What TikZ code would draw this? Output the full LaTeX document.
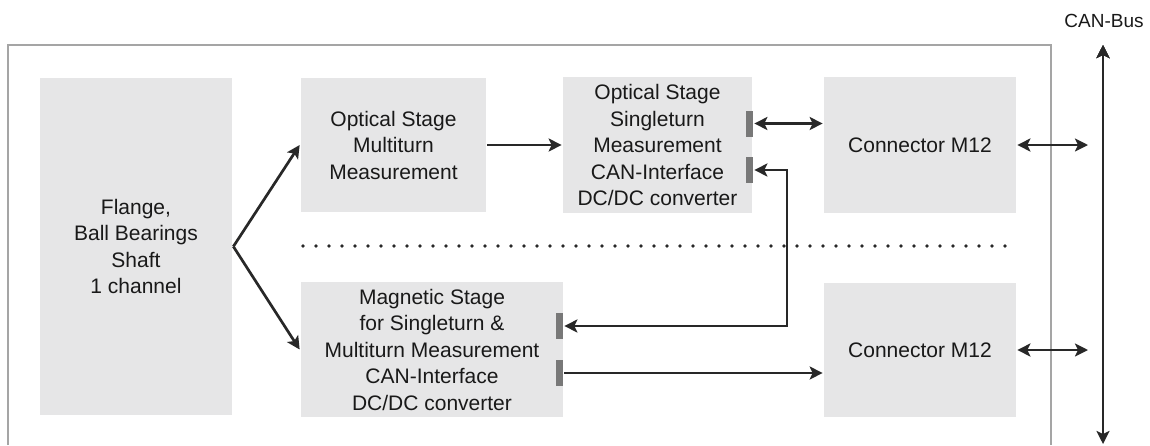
\documentclass[tikz,border=0pt]{standalone}
\usepackage{fontspec}
\setmainfont{Liberation Sans}
\usetikzlibrary{arrows.meta}
\definecolor{boxgray}{RGB}{230,230,231}
\definecolor{bargray}{RGB}{120,120,120}
\definecolor{linegray}{RGB}{40,40,40}
\definecolor{framegray}{RGB}{165,165,165}

\begin{document}
\begin{tikzpicture}[x=1pt,y=-1pt,<->,>={Stealth[length=13pt,width=13pt,inset=3pt]},
  line width=2.7pt,draw=linegray,
  block/.style={fill=boxgray,inner sep=0pt,align=center,text=black!90,
    font=\fontsize{21}{26.5}\selectfont},
  bar/.style={fill=bargray,inner sep=0pt,minimum width=7pt,minimum height=26pt}]

  \useasboundingbox (0,0) rectangle (1150,445);
  \draw[-,framegray,line width=1.6pt] (8,445) -- (8,45) -- (1051,45) -- (1051,445);

  \node[block,minimum width=192pt,minimum height=337pt] (flange) at (136,246.5)
    {Flange,\\Ball Bearings\\Shaft\\1 channel};
  \node[block,minimum width=185pt,minimum height=134pt] (multi) at (393.5,145)
    {Optical Stage\\Multiturn\\Measurement};
  \node[block,minimum width=189pt,minimum height=136pt] (single) at (657.5,145)
    {Optical Stage\\Singleturn\\Measurement\\CAN-Interface\\DC/DC converter};
  \node[block,minimum width=192pt,minimum height=136pt] (conn1) at (920,145)
    {Connector M12};
  \node[block,minimum width=262pt,minimum height=135pt] (magnet) at (432,349.5)
    {Magnetic Stage\\for Singleturn \&\\Multiturn Measurement\\CAN-Interface\\DC/DC converter};
  \node[block,minimum width=192pt,minimum height=134pt] (conn2) at (920,350)
    {Connector M12};

  \node[bar] (sbar1) at (749.5,123.5) {};
  \node[bar] (sbar2) at (749.5,170) {};
  \node[bar] (mbar1) at (559.5,326) {};
  \node[bar] (mbar2) at (559.5,373) {};

  \node[text=black!90,font=\fontsize{19}{22}\selectfont] (bus) at (1104,21) {CAN-Bus};
  \coordinate (bustop) at (1103,45);
  \coordinate (busbot) at (1103,444);
  \coordinate (tap1) at (1088,145);
  \coordinate (tap2) at (1088,350);
  \coordinate (turn) at (787,250);

  % separator between optical and magnetic part
  \foreach \x in {303,316,...,1012}
    \fill[linegray] (\x,246) circle (1.8pt);

  \path[draw=linegray]
    (flange.east) edge[->] (multi.west)
    (flange.east) edge[->] (magnet.west)
    (multi.east) edge[->] (single.west)
    (sbar1.east) edge (sbar1.east -| conn1.west)
    (mbar2.east) edge[->] (mbar2.east -| conn2.west)
    (conn1.east) edge (tap1)
    (conn2.east) edge (tap2)
    (bustop) edge (busbot);
  \draw[<->] (sbar2.east) -| (turn) |- (mbar1.east);
\end{tikzpicture}
\end{document}
